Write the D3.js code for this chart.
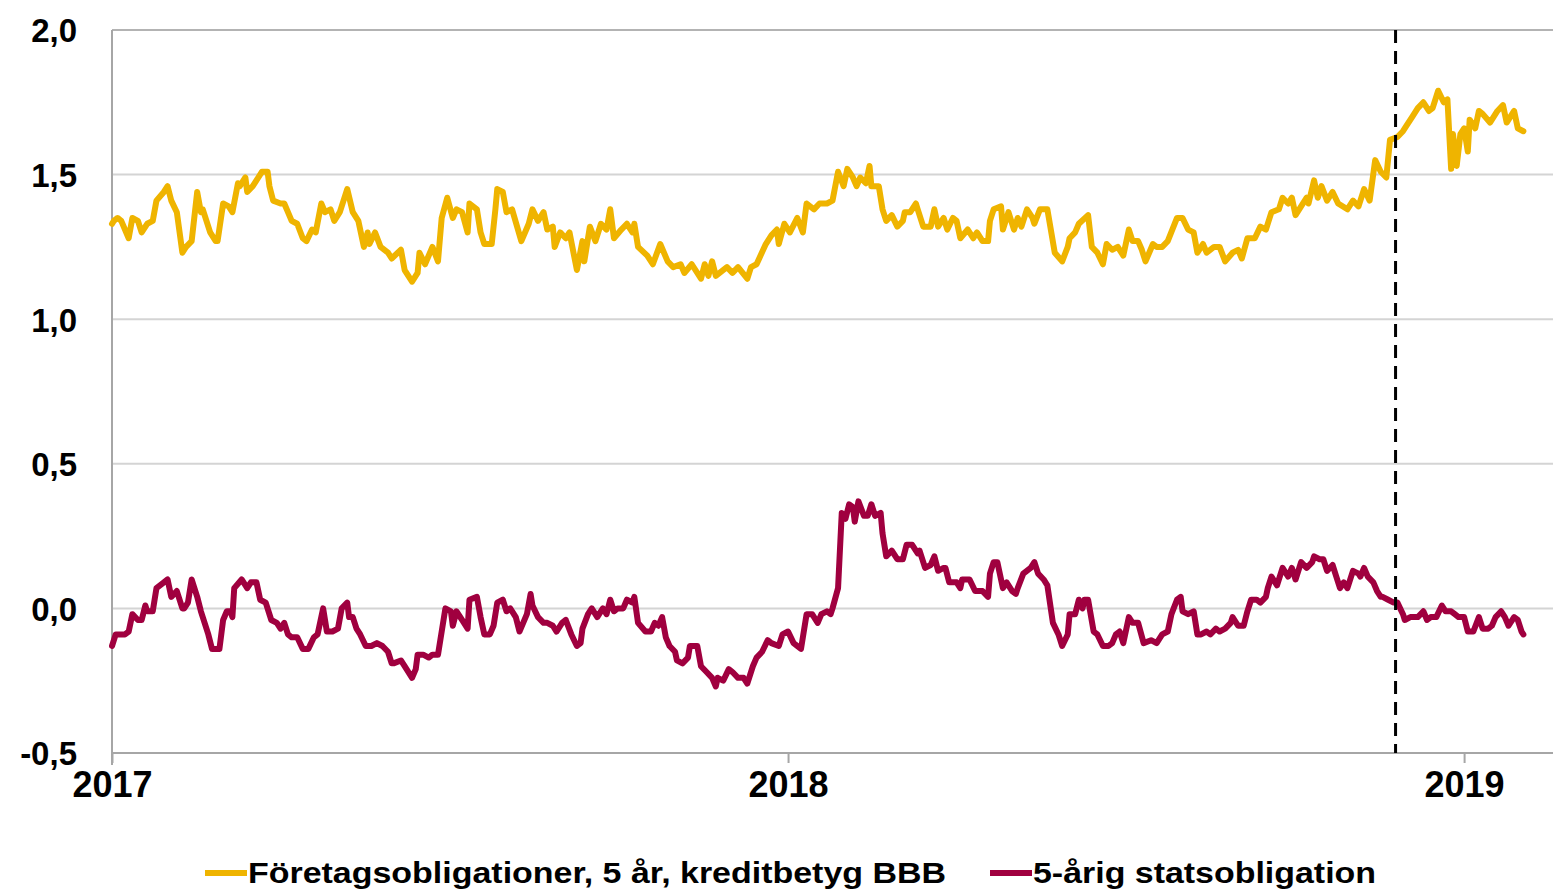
<!DOCTYPE html>
<html>
<head>
<meta charset="utf-8">
<script src="https://cdn.jsdelivr.net/npm/d3@7"></script>
<style>
  body { margin: 0; background: #fff; }
  text { font-family: "Liberation Sans", Arial, sans-serif; font-weight: bold; fill: #000; }
</style>
</head>
<body>
<div id="chart"></div>
<script>
// dagar efter 2017-01-01
var corpDays = [0,1,3,5,9,11,14,16,19,22,24,28,30,32,35,38,40,43,46,48,49,53,56,57,60,63,65,68,69,72,73,76,78,81,84,85,87,91,93,95,97,100,103,105,108,110,113,115,118,120,123,127,130,133,136,138,139,142,145,149,151,156,
  158,162,165,166,169,173,176,178,181,184,186,189,192,193,197,199,201,205,207,208,211,213,216,221,225,227,230,233,235,238,239,242,245,247,251,254,255,258,261,264,267,269,271,275,278,281,282,284,289,292,296,300,303,307,309,313,318,320,322,324,326,332,335,338,343,345,348,353,356,359,360,363,366,370,
  373,375,379,382,386,389,392,395,397,400,402,404,407,409,410,414,416,418,421,424,427,428,431,434,435,438,442,444,446,449,451,454,456,458,462,465,467,470,473,474,476,480,481,484,487,489,491,494,497,498,501,505,509,513,516,517,520,522,527,529,532,535,537,540,543,546,549,551,554,556,558,562,564,567,570,575,578,581,584,586,
  589,591,595,598,601,605,608,610,613,617,620,623,626,630,632,635,637,639,642,645,646,649,651,653,656,659,662,667,670,673,676,679,682,685,688,690,694,697,699,702,705,708,711,713,716,719,721,723,724,726,728,730,732,733,736,738,740,744,748,751,753,757,759,762];
var corpYield = [1.33,1.34,1.35,1.34,1.28,1.35,1.34,1.30,1.33,1.34,1.41,1.44,1.46,1.41,1.37,1.23,1.25,1.27,1.44,1.37,1.38,1.30,1.27,1.27,1.40,1.39,1.37,1.47,1.46,1.49,1.44,1.46,1.48,1.51,1.51,1.46,1.41,1.40,1.40,1.37,1.34,1.33,1.28,1.27,1.31,1.30,1.40,1.37,1.38,1.34,1.37,1.45,1.37,1.34,1.25,1.30,1.26,1.30,1.25,1.23,1.21,1.24,
  1.17,1.13,1.16,1.23,1.19,1.25,1.20,1.35,1.42,1.35,1.38,1.37,1.30,1.40,1.38,1.30,1.26,1.26,1.38,1.45,1.44,1.37,1.38,1.27,1.33,1.38,1.34,1.37,1.31,1.32,1.25,1.30,1.28,1.30,1.17,1.27,1.20,1.32,1.27,1.33,1.31,1.38,1.28,1.31,1.33,1.30,1.33,1.25,1.22,1.19,1.26,1.20,1.18,1.19,1.16,1.19,1.14,1.19,1.15,1.20,1.15,1.18,1.16,1.18,1.14,1.18,1.19,1.26,1.29,1.31,1.26,1.33,1.30,1.35,
  1.30,1.40,1.38,1.40,1.40,1.41,1.51,1.46,1.52,1.49,1.46,1.49,1.47,1.53,1.46,1.46,1.38,1.34,1.36,1.32,1.34,1.37,1.37,1.40,1.38,1.32,1.32,1.38,1.32,1.35,1.31,1.35,1.34,1.28,1.31,1.28,1.30,1.27,1.27,1.34,1.38,1.39,1.31,1.37,1.31,1.35,1.32,1.38,1.35,1.33,1.38,1.38,1.23,1.20,1.25,1.28,1.30,1.33,1.36,1.25,1.23,1.19,1.26,1.24,1.25,1.22,1.31,1.27,1.27,1.24,1.20,1.26,1.25,1.25,1.27,1.35,1.35,1.31,1.30,1.23,
  1.26,1.23,1.25,1.25,1.20,1.23,1.24,1.21,1.28,1.28,1.32,1.31,1.37,1.38,1.42,1.40,1.42,1.36,1.39,1.42,1.40,1.48,1.42,1.46,1.41,1.44,1.40,1.38,1.41,1.39,1.45,1.41,1.55,1.51,1.49,1.62,1.63,1.65,1.67,1.70,1.73,1.75,1.72,1.73,1.79,1.75,1.76,1.52,1.64,1.53,1.64,1.66,1.58,1.69,1.66,1.72,1.71,1.68,1.72,1.74,1.68,1.72,1.66,1.65];

var govDays = [0,2,4,7,9,11,14,16,18,19,22,24,28,30,32,35,38,39,41,43,46,48,49,52,54,58,60,62,64,65,66,70,73,75,78,80,83,86,89,91,93,95,97,100,103,106,109,111,114,116,119,122,124,127,128,130,132,134,137,140,143,146,149,151,
  152,156,158,162,164,165,168,171,173,176,180,183,184,186,189,192,193,197,199,201,204,206,208,211,213,215,218,220,222,224,226,227,230,233,235,238,240,243,245,248,251,253,254,257,259,262,265,267,269,271,273,276,278,281,282,284,288,291,293,295,297,299,301,304,305,308,311,312,316,318,321,324,326,327,330,333,335,338,341,343,346,348,351,354,356,360,362,365,368,372,
  375,378,381,383,386,388,389,392,394,396,398,400,401,403,406,408,410,412,415,416,418,421,424,427,429,432,435,436,439,442,444,446,449,450,452,456,458,459,463,466,470,473,474,476,478,481,483,486,488,489,492,496,498,500,503,505,508,511,513,516,517,520,522,524,525,527,530,532,535,538,540,542,544,546,549,551,554,557,561,564,567,570,572,575,577,578,581,584,586,
  588,591,593,596,598,601,604,605,608,611,613,615,618,620,623,624,626,629,632,635,637,639,642,645,648,649,652,654,656,659,661,663,665,667,670,673,674,676,678,681,683,685,686,689,692,694,697,698,701,704,705,708,710,712,715,718,720,723,725,727,730,732,735,738,740,743,745,747,750,752,754,757,759,761,762];
var govYield = [-0.13,-0.09,-0.09,-0.09,-0.08,-0.02,-0.04,-0.04,0.01,-0.01,-0.01,0.07,0.09,0.10,0.04,0.06,0.00,0.00,0.02,0.10,0.04,-0.01,-0.03,-0.09,-0.14,-0.14,-0.04,-0.01,-0.01,-0.03,0.07,0.10,0.07,0.09,0.09,0.03,0.02,-0.04,-0.05,-0.07,-0.05,-0.09,-0.10,-0.10,-0.14,-0.14,-0.10,-0.09,0.00,-0.08,-0.08,-0.07,0.00,0.02,-0.03,-0.03,-0.07,-0.09,-0.13,-0.13,-0.12,-0.13,-0.15,-0.19,
  -0.19,-0.18,-0.20,-0.24,-0.21,-0.16,-0.16,-0.17,-0.16,-0.16,0.00,-0.01,-0.06,-0.01,-0.04,-0.07,0.03,0.04,-0.03,-0.09,-0.09,-0.06,0.02,0.03,-0.01,0.00,-0.03,-0.08,-0.05,-0.02,0.05,0.01,-0.03,-0.05,-0.05,-0.06,-0.08,-0.05,-0.04,-0.09,-0.13,-0.12,-0.07,-0.02,0.00,-0.03,0.00,-0.02,0.03,-0.01,0.00,0.00,0.03,0.02,0.04,-0.05,-0.08,-0.08,-0.05,-0.06,-0.03,-0.10,-0.13,-0.15,-0.18,-0.19,-0.17,-0.13,-0.13,-0.20,-0.22,-0.24,-0.27,-0.24,-0.25,-0.21,-0.22,-0.24,-0.24,-0.26,-0.20,-0.17,-0.15,-0.11,-0.12,-0.13,-0.09,-0.08,-0.12,-0.14,
  -0.02,-0.02,-0.05,-0.02,-0.01,-0.02,0.00,0.07,0.33,0.31,0.36,0.35,0.30,0.37,0.32,0.32,0.36,0.32,0.33,0.26,0.18,0.20,0.17,0.17,0.22,0.22,0.19,0.20,0.14,0.15,0.18,0.13,0.14,0.14,0.09,0.09,0.07,0.10,0.10,0.06,0.06,0.04,0.12,0.16,0.16,0.07,0.09,0.06,0.05,0.07,0.12,0.14,0.16,0.12,0.10,0.08,-0.05,-0.09,-0.13,-0.09,-0.02,-0.02,0.03,0.00,0.03,0.03,-0.08,-0.09,-0.13,-0.13,-0.12,-0.09,-0.08,-0.12,-0.03,-0.05,-0.05,-0.12,-0.11,-0.12,-0.09,-0.08,-0.02,0.03,0.04,-0.01,-0.02,-0.01,-0.09,
  -0.09,-0.08,-0.09,-0.07,-0.08,-0.07,-0.05,-0.03,-0.06,-0.06,-0.01,0.03,0.03,0.02,0.04,0.07,0.11,0.08,0.14,0.11,0.14,0.10,0.16,0.14,0.16,0.18,0.17,0.17,0.13,0.15,0.11,0.07,0.09,0.07,0.13,0.12,0.11,0.14,0.11,0.09,0.06,0.04,0.04,0.03,0.02,0.02,-0.02,-0.04,-0.03,-0.03,-0.03,-0.01,-0.04,-0.03,-0.03,0.01,-0.01,-0.01,-0.02,-0.03,-0.03,-0.08,-0.08,-0.03,-0.07,-0.07,-0.06,-0.03,-0.01,-0.03,-0.06,-0.03,-0.04,-0.08,-0.09];

var yTicks = [-0.5, 0, 0.5, 1.0, 1.5, 2.0];
var xTickLabels = ["2017", "2018", "2019"];
var markerDate = "2018-11-25";
var seriesNames = ["Företagsobligationer, 5 år, kreditbetyg BBB", "5-årig statsobligation"];
var seriesColors = ["#EFB400", "#A0003F"];

var width = 1553, height = 891;
var margin = { top: 30, right: 0, bottom: 138, left: 112 };
var innerW = width - margin.left - margin.right;
var innerH = height - margin.top - margin.bottom;

var parseDate = d3.timeParse("%Y-%m-%d");
var start = parseDate("2017-01-01");
function toDate(d) { return d3.timeDay.offset(start, d); }

var corp = corpDays.map(function(d, i) { return { date: toDate(d), value: corpYield[i] }; });
var gov = govDays.map(function(d, i) { return { date: toDate(d), value: govYield[i] }; });

var x = d3.scaleTime()
    .domain([start, parseDate("2019-02-18")])
    .range([0, innerW]);
var y = d3.scaleLinear()
    .domain([-0.5, 2.0])
    .range([innerH, 0]);

var svg = d3.select("#chart").append("svg")
    .attr("width", width)
    .attr("height", height);
var g = svg.append("g")
    .attr("transform", "translate(" + margin.left + "," + margin.top + ")");

// stödlinjer
g.selectAll(".grid")
    .data(yTicks.filter(function(t) { return t > -0.5 && t < 2.0; }))
    .enter().append("line")
    .attr("class", "grid")
    .attr("x1", 0).attr("x2", innerW)
    .attr("y1", function(d) { return y(d); })
    .attr("y2", function(d) { return y(d); })
    .style("stroke", "#D4D4D4")
    .style("stroke-width", 2);

g.append("line")
    .attr("x1", 0).attr("x2", innerW)
    .attr("y1", y(2.0)).attr("y2", y(2.0))
    .style("stroke", "#B3B3B3").style("stroke-width", 2);

// y-axel
var yAxis = g.append("g")
    .call(d3.axisLeft(y).tickValues(yTicks).tickSize(0).tickPadding(35)
        .tickFormat(function(d) { return d3.format(".1f")(d).replace(".", ",").replace("\u2212", "-"); }));
yAxis.select(".domain").style("stroke", "#A6A6A6").style("stroke-width", 2)
    .attr("d", "M0," + (innerH + 12) + "V0");
yAxis.selectAll("text").style("font-size", "33px").attr("dy", "0.36em");

// x-axel
var xAxis = g.append("g")
    .attr("transform", "translate(0," + innerH + ")")
    .call(d3.axisBottom(x)
        .tickValues(xTickLabels.map(function(s) { return parseDate(s + "-01-01"); }))
        .tickSize(10).tickPadding(8)
        .tickFormat(d3.timeFormat("%Y")));
xAxis.select(".domain").style("stroke", "#A6A6A6").style("stroke-width", 2)
    .attr("d", "M0,0H" + innerW);
xAxis.selectAll("line").style("stroke", "#A6A6A6").style("stroke-width", 2);
xAxis.selectAll("text").style("font-size", "36px");

// linjer
var line = d3.line()
    .x(function(d) { return x(d.date); })
    .y(function(d) { return y(d.value); });

g.append("path").datum(corp)
    .attr("d", line)
    .style("fill", "none").style("stroke", seriesColors[0])
    .style("stroke-width", 6).style("stroke-linejoin", "round").style("stroke-linecap", "round");

g.append("path").datum(gov)
    .attr("d", line)
    .style("fill", "none").style("stroke", seriesColors[1])
    .style("stroke-width", 6).style("stroke-linejoin", "round").style("stroke-linecap", "round");

// markering
g.append("line")
    .attr("x1", x(parseDate(markerDate))).attr("x2", x(parseDate(markerDate)))
    .attr("y1", 0).attr("y2", innerH)
    .style("stroke", "#000").style("stroke-width", 3)
    .style("stroke-dasharray", "13,8");

// legend
var legendItems = [
    { name: seriesNames[0], color: seriesColors[0], x: 205, w: 698 },
    { name: seriesNames[1], color: seriesColors[1], x: 990, w: 343 }
];
var legend = svg.append("g").attr("transform", "translate(0,873)");
legendItems.forEach(function(it) {
    legend.append("line")
        .attr("x1", it.x).attr("x2", it.x + 42)
        .attr("y1", 0).attr("y2", 0)
        .style("stroke", it.color).style("stroke-width", 6);
    legend.append("text")
        .attr("x", it.x + 43).attr("y", 0).attr("dy", "0.36em")
        .attr("textLength", it.w).attr("lengthAdjust", "spacingAndGlyphs")
        .style("font-size", "29px")
        .text(it.name);
});
</script>
</body>
</html>
